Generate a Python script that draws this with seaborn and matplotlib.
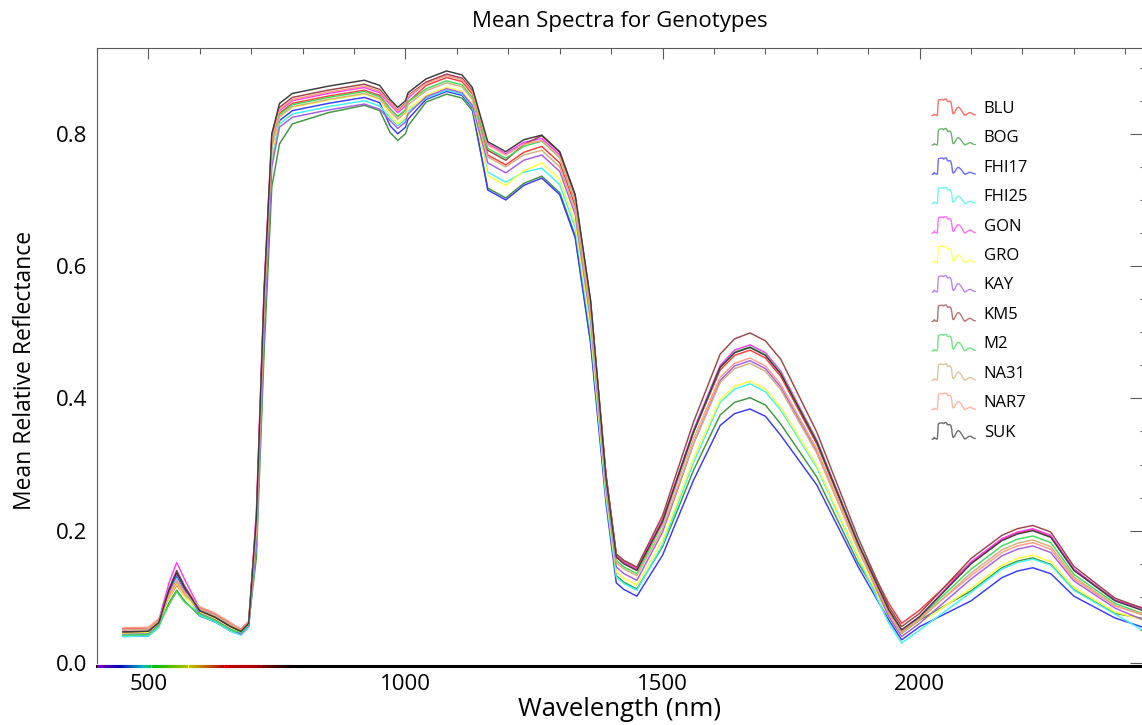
import numpy as np
import pandas as pd
import matplotlib
matplotlib.use("Agg")
import matplotlib.pyplot as plt
import matplotlib.transforms as mtransforms
import seaborn as sns
from matplotlib.collections import LineCollection
from matplotlib.legend_handler import HandlerBase
from matplotlib.lines import Line2D
from matplotlib.ticker import MultipleLocator, FormatStrFormatter

wavelength = [450, 500, 520, 540, 555, 570, 600, 630, 660, 680,
              695, 710, 725, 740, 755, 780, 850, 920, 950, 970,
              985, 1000, 1005, 1040, 1080, 1110, 1130, 1160, 1195, 1230,
              1265, 1300, 1330, 1360, 1390, 1410, 1425, 1450,
              1500, 1530, 1560, 1612, 1640, 1670, 1700, 1730, 1800, 1880, 1940, 1965,
              2000, 2100, 2160, 2190, 2220, 2255, 2300, 2380, 2450]

genotypes = ["BLU", "BOG", "FHI17", "FHI25", "GON", "GRO",
             "KAY", "KM5", "M2", "NA31", "NAR7", "SUK"]
line_colors = ["#ff3b3b", "#3f963f", "#3a3aff", "#3ff5f5", "#ff3bff", "#ffff33",
               "#a95ce8", "#9c4646", "#3fdd5a", "#d2b07c", "#ff9e85", "#3c3c3c"]

blu = [.052, .053, .066, .098, .118, .102, .084, .074, .060, .051,
       .063, .22, .56, .79, .831, .846, .857, .866, .858, .838,
       .826, .836, .848, .873, .885, .879, .860, .768, .753, .772,
       .781, .756, .691, .531, .284, .164, .154, .144,
       .216, .282, .348, .443, .465, .473, .461, .433, .331, .180, .090, .060,
       .080, .152, .187, .197, .202, .192, .141, .095, .080]
bog = [.045, .046, .059, .091, .110, .094, .071, .062, .050, .047,
       .059, .16, .47, .72, .785, .815, .832, .843, .835, .802,
       .790, .800, .812, .848, .860, .854, .835, .718, .703, .725,
       .736, .711, .646, .486, .252, .132, .122, .112,
       .176, .233, .291, .375, .394, .401, .390, .361, .281, .152, .075, .045,
       .065, .109, .144, .154, .159, .149, .111, .075, .065]
fhi17 = [.040, .041, .054, .104, .131, .108, .072, .062, .048, .043,
         .055, .19, .52, .77, .820, .835, .846, .855, .847, .812,
         .800, .810, .822, .852, .864, .858, .839, .715, .700, .722,
         .733, .708, .643, .483, .241, .121, .111, .101,
         .163, .220, .276, .359, .377, .384, .373, .344, .269, .146, .065, .035,
         .055, .094, .129, .139, .144, .135, .101, .068, .050]
fhi25 = [.040, .041, .054, .102, .128, .106, .072, .062, .048, .042,
         .054, .18, .51, .76, .815, .830, .841, .850, .842, .824,
         .812, .822, .834, .854, .866, .860, .841, .742, .727, .742,
         .748, .723, .658, .498, .250, .130, .120, .110,
         .179, .241, .303, .394, .414, .422, .410, .382, .295, .160, .060, .030,
         .050, .107, .142, .152, .157, .148, .110, .074, .042]
gon = [.050, .051, .064, .121, .152, .127, .082, .072, .058, .045,
       .057, .23, .57, .80, .835, .850, .861, .870, .862, .844,
       .832, .842, .854, .878, .890, .884, .865, .785, .770, .787,
       .793, .768, .703, .543, .282, .162, .152, .142,
       .217, .284, .352, .450, .473, .481, .469, .441, .337, .183, .080, .050,
       .070, .153, .188, .198, .203, .193, .142, .095, .078]
gro = [.045, .046, .059, .098, .120, .101, .077, .067, .053, .046,
       .058, .19, .52, .77, .825, .840, .851, .860, .852, .827,
       .815, .825, .837, .858, .870, .864, .845, .737, .722, .744,
       .756, .731, .666, .506, .258, .138, .128, .118,
       .186, .247, .309, .398, .418, .426, .414, .386, .298, .162, .070, .040,
       .060, .113, .148, .158, .163, .153, .114, .077, .062]
kay = [.043, .044, .057, .107, .135, .112, .075, .065, .051, .044,
       .056, .18, .50, .75, .810, .825, .836, .845, .837, .820,
       .808, .818, .830, .856, .868, .862, .843, .756, .741, .760,
       .768, .743, .678, .518, .265, .145, .135, .125,
       .198, .264, .331, .427, .449, .457, .445, .417, .320, .174, .070, .040,
       .060, .127, .162, .172, .177, .167, .124, .083, .060]
km5 = [.047, .048, .061, .112, .140, .117, .079, .069, .055, .048,
       .060, .21, .55, .79, .840, .855, .866, .875, .867, .848,
       .836, .846, .858, .878, .890, .884, .865, .775, .760, .784,
       .797, .772, .707, .547, .285, .165, .155, .145,
       .223, .294, .364, .467, .490, .499, .487, .459, .349, .190, .085, .055,
       .075, .158, .193, .203, .208, .198, .146, .098, .078]
m2 = [.042, .043, .056, .088, .108, .092, .074, .064, .050, .046,
      .058, .20, .54, .78, .829, .844, .855, .864, .856, .838,
      .826, .836, .848, .868, .880, .874, .855, .778, .763, .781,
      .789, .764, .699, .539, .275, .155, .145, .135,
      .210, .279, .348, .447, .470, .478, .466, .438, .335, .182, .078, .048,
      .068, .142, .177, .187, .192, .182, .134, .090, .070]
na31 = [.050, .051, .064, .100, .122, .104, .082, .072, .058, .049,
        .061, .20, .53, .78, .826, .841, .852, .861, .853, .834,
        .822, .832, .844, .865, .877, .871, .852, .765, .750, .768,
        .775, .750, .685, .525, .272, .152, .142, .132,
        .203, .267, .331, .424, .445, .453, .441, .413, .317, .172, .075, .045,
        .065, .136, .171, .181, .186, .176, .130, .087, .068]
nar7 = [.053, .054, .067, .103, .125, .107, .085, .075, .061, .050,
        .062, .21, .55, .79, .837, .852, .863, .872, .864, .847,
        .835, .845, .857, .876, .888, .882, .863, .783, .768, .784,
        .790, .765, .700, .540, .280, .160, .150, .140,
        .211, .275, .339, .432, .453, .461, .449, .421, .323, .175, .078, .048,
        .068, .132, .167, .177, .182, .172, .127, .086, .070]
suk = [.047, .048, .061, .110, .137, .114, .079, .069, .055, .048,
       .060, .22, .56, .80, .846, .861, .872, .881, .873, .852,
       .840, .850, .862, .883, .895, .889, .870, .788, .773, .791,
       .798, .773, .708, .548, .280, .160, .150, .140,
       .214, .282, .349, .447, .469, .477, .465, .437, .334, .181, .080, .050,
       .070, .150, .185, .195, .200, .190, .140, .094, .075]

series = [blu, bog, fhi17, fhi25, gon, gro, kay, km5, m2, na31, nar7, suk]

frames = []
for name, vals in zip(genotypes, series):
    frames.append(pd.DataFrame({"wavelength": wavelength, "reflectance": vals, "genotype": name}))
df = pd.concat(frames, ignore_index=True)
palette = dict(zip(genotypes, line_colors))

sns.set_theme(style="white")
plt.rcParams["font.family"] = ["Open Sans", "DejaVu Sans"]
plt.rcParams["text.color"] = "black"

W, H = 1142, 725
fig = plt.figure(figsize=(W / 100, H / 100), dpi=100)
ax = fig.add_axes([97 / W, 1 - 663 / H, 1053 / W, 615 / H])

sns.lineplot(data=df, x="wavelength", y="reflectance", hue="genotype",
             hue_order=genotypes, palette=palette, estimator=None, sort=False,
             lw=1.05, legend=False, ax=ax)

ax.set_xlim(400, 2448)
ax.set_ylim(0, 0.9297)
ax.set_xlabel("")
ax.set_ylabel("")

# axis styling, ENVI-like
spine_col = "#5a5a5a"
for s in ["left", "right", "top"]:
    ax.spines[s].set_color(spine_col)
    ax.spines[s].set_linewidth(0.8)
ax.spines["bottom"].set_color("black")
ax.spines["bottom"].set_linewidth(2.2)
ax.spines["bottom"].set_position(("outward", 2))

ax.xaxis.set_major_locator(MultipleLocator(500))
ax.xaxis.set_minor_locator(MultipleLocator(100))
ax.yaxis.set_major_locator(MultipleLocator(0.2))
ax.yaxis.set_minor_locator(MultipleLocator(0.05))
ax.yaxis.set_major_formatter(FormatStrFormatter("%.1f"))

ax.tick_params(which="both", direction="in", top=True, right=True,
               color=spine_col, width=0.8, labelsize=16, labelcolor="black")
ax.tick_params(axis="x", which="major", length=8, pad=6)
ax.tick_params(axis="x", which="minor", length=4)
ax.tick_params(axis="y", which="major", length=14.5, pad=7)
ax.tick_params(axis="y", which="minor", length=7.2)


# visible-spectrum colour strip on the x axis
def wl_rgb(w):
    if w < 440:
        r, g, b = (440 - w) / 60, 0.0, 1.0
    elif w < 490:
        r, g, b = 0.0, (w - 440) / 50, 1.0
    elif w < 510:
        r, g, b = 0.0, 1.0, (510 - w) / 20
    elif w < 580:
        r, g, b = (w - 510) / 70, 1.0, 0.0
    elif w < 645:
        r, g, b = 1.0, (645 - w) / 65, 0.0
    else:
        r, g, b = 1.0, 0.0, 0.0
    f = 1.0
    if w > 690:
        f = max(0.0, (780 - w) / 90)
    return (r * f, g * f, b * f)


strip_x = np.arange(400, 781, 2)
segs = [[(strip_x[i], 0), (strip_x[i + 1], 0)] for i in range(len(strip_x) - 1)]
trans = ax.get_xaxis_transform() + mtransforms.ScaledTranslation(0, -2 / 72, fig.dpi_scale_trans)
strip = LineCollection(segs, colors=[wl_rgb(v) for v in strip_x[:-1]], linewidths=2.2,
                       transform=trans, clip_on=False, zorder=5)
ax.add_collection(strip)


class SpectrumHandler(HandlerBase):
    # legend icon = the genotype's own spectrum squeezed into the handle box
    def create_artists(self, legend, orig_handle, xdescent, ydescent,
                       width, height, fontsize, trans):
        x = np.asarray(orig_handle.get_xdata(), float)
        y = np.asarray(orig_handle.get_ydata(), float)
        xs = (x - x.min()) / (x.max() - x.min()) * width - xdescent
        ys = (y - y.min()) / (y.max() - y.min()) * height - ydescent
        ln = Line2D(xs, ys, color=orig_handle.get_color(), lw=1.0, alpha=0.75)
        ln.set_transform(trans)
        return [ln]


handles = [Line2D(wavelength, vals, color=c) for vals, c in zip(series, line_colors)]
ax.legend(handles, genotypes, handler_map={Line2D: SpectrumHandler()},
          loc="upper left", bbox_to_anchor=((932 - 97) / 1053, (663 - 99) / 615),
          frameon=False, fontsize=12, labelcolor="black", handlelength=2.6,
          handleheight=1.15, handletextpad=0.5, labelspacing=0.69,
          borderpad=0, borderaxespad=0)

fig.text(620 / W, 1 - 22 / H, "Mean Spectra for Genotypes", ha="center", va="center", fontsize=16)
fig.text(620 / W, 1 - 710 / H, "Wavelength (nm)", ha="center", va="center", fontsize=18.5)
fig.text(25 / W, 1 - 370 / H, "Mean Relative Reflectance", ha="center", va="center",
         rotation=90, fontsize=16.5)

fig.savefig("out.png", dpi=100)
